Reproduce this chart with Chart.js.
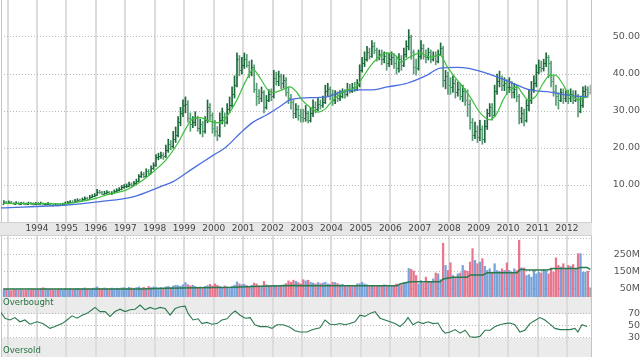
<!DOCTYPE html>
<html><head><meta charset="utf-8">
<script src="https://cdn.jsdelivr.net/npm/chart.js@4.4.1/dist/chart.umd.min.js"></script>
<style>
html,body{margin:0;padding:0;background:#fff;}
#wrap{position:relative;width:640px;height:357px;overflow:hidden;background:#fff;}
canvas{position:absolute;left:0;}
</style></head><body>
<div id="wrap">
<canvas id="price" width="640" height="236" style="top:0"></canvas>
<canvas id="vol" width="640" height="61" style="top:236px"></canvas>
<canvas id="rsi" width="640" height="60" style="top:297px"></canvas>
</div>
<script>
// ---- monthly OHLC, Nov 1992 .. Oct 2012 ----
const firstYear = 1992, firstMonth = 11;
const open = [
5.0,5.3,
5.2,5.4,5.1,5.0,5.2,4.9,5.1,5.0,4.9,5.1,5.0,4.8,
5.0,4.9,5.1,4.8,4.9,5.0,4.7,4.6,4.8,4.6,4.7,4.9,
5.1,5.3,5.5,5.4,5.8,6.0,5.8,6.2,6.4,6.3,6.8,7.0,
7.3,8.2,8.0,7.7,7.9,8.1,7.8,7.9,8.3,8.6,8.9,9.4,
9.6,9.8,10.2,10.0,10.5,11.0,12.3,13.0,12.5,13.8,13.2,14.6,
15.3,17.6,17.9,18.2,17.8,19.5,21.0,20.5,22.5,23.5,27.0,29.5,
31.5,32.0,28.0,26.5,27.0,28.0,25.5,26.5,24.5,27.5,31.0,29.0,
25.5,24.5,23.5,27.5,28.5,27.0,30.5,31.5,34.5,37.0,44.0,41.0,
42.5,44.0,42.5,40.5,42.0,36.0,34.0,33.5,35.0,31.0,33.0,34.5,
34.0,39.0,38.0,39.5,37.5,38.5,35.0,33.5,32.5,29.5,30.5,29.0,
28.5,28.0,29.5,27.5,29.5,31.0,30.5,32.0,31.5,32.5,35.5,36.0,
34.5,33.0,34.5,33.5,34.0,35.0,34.5,36.0,35.5,36.5,36.0,37.0,
41.0,43.0,44.0,46.0,45.0,47.5,46.5,44.5,45.5,44.0,45.0,43.0,
44.0,44.5,43.0,41.5,44.0,42.5,45.5,47.5,50.0,46.0,42.0,41.5,
45.0,47.0,45.0,44.5,46.0,44.0,45.0,43.5,45.5,47.0,38.5,39.5,
37.0,36.5,37.5,35.0,36.0,34.0,35.5,33.0,32.0,27.0,23.5,24.5,
23.0,25.0,22.5,26.0,29.5,31.0,29.0,35.5,38.0,39.0,37.0,37.5,
36.5,36.5,35.0,36.0,34.0,28.0,29.5,27.5,31.5,33.0,36.0,37.5,
40.5,42.0,41.5,43.0,44.5,43.0,38.0,35.5,34.0,33.0,35.0,33.5,
34.5,33.5,34.5,33.0,34.0,30.0,31.5,35.5,36.0,35.0
];
const high = [
5.8,5.6,
5.7,5.6,5.3,5.5,5.4,5.3,5.4,5.2,5.4,5.3,5.2,5.3,
5.3,5.4,5.2,5.1,5.3,5.1,4.9,5.0,4.9,4.9,5.1,5.4,
5.6,5.8,5.8,6.1,6.3,6.2,6.5,6.8,6.7,7.2,7.4,7.7,
8.8,8.6,8.3,8.3,8.5,8.3,8.2,8.7,9.0,9.3,9.9,10.1,
10.3,10.8,10.6,11.0,11.6,12.8,13.6,13.4,14.4,14.2,15.2,16.0,
18.2,18.6,18.9,18.7,20.8,22.4,22.0,24.5,25.7,28.5,31.0,33.0,
33.8,32.8,29.5,28.5,29.8,28.6,27.8,27.2,28.5,33.0,32.0,29.5,
27.5,25.8,29.5,30.8,29.5,32.0,33.8,36.5,39.5,45.7,45.0,44.5,
45.7,45.3,43.5,43.8,42.5,37.5,35.8,36.5,35.5,34.2,35.8,36.0,
41.0,40.5,40.8,40.0,39.8,39.0,36.5,34.5,33.0,32.0,31.5,30.5,
30.5,31.5,30.0,31.0,33.0,32.5,33.5,33.0,34.0,37.0,37.5,36.5,
35.7,35.5,35.2,35.5,36.0,35.8,37.5,37.2,37.5,37.8,38.5,42.5,
44.5,46.0,47.5,47.0,49.0,48.5,47.0,46.5,46.5,46.0,45.8,45.5,
46.0,45.5,44.5,45.5,45.0,47.0,49.0,52.0,50.5,46.5,44.0,46.5,
49.0,48.0,46.5,47.0,46.5,46.0,46.0,46.5,48.4,47.5,41.0,40.5,
39.0,39.5,38.5,37.8,37.5,37.0,36.0,35.7,33.0,28.0,27.0,26.0,
27.5,26.0,27.5,30.5,32.0,32.0,37.0,40.0,40.8,39.5,39.0,38.5,
39.0,38.0,37.5,37.0,34.5,31.0,30.5,33.0,35.7,38.0,39.5,42.5,
43.8,43.5,44.0,45.7,45.0,43.5,39.5,37.0,35.0,36.0,36.0,35.5,
35.7,36.0,35.5,35.5,34.5,33.8,36.5,36.8,36.5,37.0
];
const low = [
4.9,5.0,
5.0,4.9,4.8,4.9,4.7,4.7,4.8,4.6,4.7,4.8,4.6,4.7,
4.7,4.8,4.6,4.6,4.7,4.5,4.3,4.4,4.3,4.4,4.6,4.8,
5.0,5.2,5.2,5.3,5.6,5.6,5.7,6.0,6.0,6.2,6.6,6.8,
7.2,7.7,7.4,7.5,7.7,7.5,7.4,7.7,8.1,8.4,8.7,9.1,
9.3,9.5,9.6,9.8,10.2,10.8,12.0,12.0,12.3,12.6,13.0,14.2,
15.0,16.8,17.2,16.9,17.4,18.8,19.5,20.0,21.5,23.0,26.0,28.5,
29.5,27.0,24.5,25.5,26.0,24.5,23.8,23.0,24.0,26.8,27.5,24.0,
23.2,22.0,23.0,26.5,25.8,26.5,29.5,31.0,33.5,36.5,39.5,40.0,
41.5,41.8,39.0,39.5,35.0,31.5,32.0,32.5,29.5,30.5,32.5,32.8,
33.5,37.0,36.8,36.0,36.2,34.0,32.0,30.5,28.0,28.2,27.5,27.0,
27.0,27.2,26.8,27.0,28.5,29.5,30.0,30.5,31.0,32.0,34.0,33.0,
31.5,32.0,32.5,32.8,33.5,33.5,34.0,34.8,35.0,35.2,35.5,36.5,
40.5,42.0,43.5,44.0,44.5,45.5,43.5,43.8,42.5,43.0,41.0,42.0,
42.5,41.5,40.0,40.5,41.0,42.0,44.5,46.5,44.0,40.0,39.7,41.0,
44.0,44.0,43.0,43.8,43.0,43.5,42.5,43.0,45.0,36.5,36.0,34.5,
34.5,35.0,33.5,34.0,33.0,32.5,31.5,28.5,25.0,22.0,22.5,21.5,
22.0,21.0,21.5,25.0,28.5,27.5,28.5,34.5,36.5,35.5,35.5,34.5,
35.0,33.5,33.5,32.5,26.5,26.8,26.0,27.0,30.0,32.0,35.0,36.5,
40.0,40.5,40.8,42.0,39.0,36.5,34.0,31.5,30.5,32.5,32.0,32.5,
32.0,32.5,32.0,32.5,28.4,29.5,31.0,34.0,34.0,34.5
];
const close = [
5.3,5.2,
5.4,5.1,5.0,5.2,4.9,5.1,5.0,4.9,5.1,5.0,4.8,5.0,
4.9,5.1,4.8,4.9,5.0,4.7,4.6,4.8,4.6,4.7,4.9,5.1,
5.3,5.5,5.4,5.8,6.0,5.8,6.2,6.4,6.3,6.8,7.0,7.3,
8.2,8.0,7.7,7.9,8.1,7.8,7.9,8.3,8.6,8.9,9.4,9.6,
9.8,10.2,10.0,10.5,11.0,12.3,13.0,12.5,13.8,13.2,14.6,15.3,
17.6,17.9,18.2,17.8,19.5,21.0,20.5,22.5,23.5,27.0,29.5,31.5,
32.0,28.0,26.5,27.0,28.0,25.5,26.5,24.5,27.5,31.0,29.0,25.5,
24.5,23.5,27.5,28.5,27.0,30.5,31.5,34.5,37.0,44.0,41.0,42.5,
44.0,42.5,40.5,42.0,36.0,34.0,33.5,35.0,31.0,33.0,34.5,34.0,
39.0,38.0,39.5,37.5,38.5,35.0,33.5,32.5,29.5,30.5,29.0,28.5,
28.0,29.5,27.5,29.5,31.0,30.5,32.0,31.5,32.5,35.5,36.0,34.5,
33.0,34.5,33.5,34.0,35.0,34.5,36.0,35.5,36.5,36.0,37.0,41.0,
43.0,44.0,46.0,45.0,47.5,46.5,44.5,45.5,44.0,45.0,43.0,44.0,
44.5,43.0,41.5,44.0,42.5,45.5,47.5,50.0,46.0,42.0,41.5,45.0,
47.0,45.0,44.5,46.0,44.0,45.0,43.5,45.5,47.0,38.5,39.5,37.0,
36.5,37.5,35.0,36.0,34.0,35.5,33.0,32.0,27.0,23.5,24.5,23.0,
25.0,22.5,26.0,29.5,31.0,29.0,35.5,38.0,39.0,37.0,37.5,36.5,
36.5,35.0,36.0,34.0,28.0,29.5,27.5,31.5,33.0,36.0,37.5,40.5,
42.0,41.5,43.0,44.5,43.0,38.0,35.5,34.0,33.0,35.0,33.5,34.5,
33.5,34.5,33.0,34.0,30.0,31.5,35.5,36.0,35.0,36.0
];
// monthly volume, millions
const volume = [
42,46,
41,38,44,42,40,43,39,41,44,42,46,43,
44,48,55,50,44,46,43,41,44,46,42,48,
46,50,44,48,52,46,50,54,48,46,50,54,
60,52,48,54,50,46,53,48,52,50,54,56,
52,58,54,50,56,60,53,58,50,63,56,60,
58,53,56,52,60,63,56,66,70,68,64,73,
86,73,66,70,63,58,60,56,63,68,76,66,
78,70,63,58,66,60,56,64,70,90,78,73,
76,68,63,70,83,78,66,63,93,73,68,66,
70,66,63,68,73,80,96,88,100,93,86,78,
103,96,100,88,83,78,86,80,83,88,78,76,
88,86,80,73,76,68,70,66,63,68,78,80,
88,78,73,68,70,66,63,68,66,73,70,68,
66,70,78,68,73,83,88,170,165,155,128,78,
98,83,118,93,88,108,143,138,103,320,188,158,
204,128,118,138,143,188,158,153,208,288,218,198,
208,228,183,158,168,148,198,158,153,168,158,203,
158,148,168,158,338,173,173,128,133,118,158,138,
148,143,163,153,138,173,148,233,188,178,198,168,
188,183,193,168,258,258,148,148,153,55
];
// moving averages (decimal year, value)
const maFastYears = [1992.85,1993.42,1994.10,1994.78,1995.46,1996.00,1996.48,1997.02,1997.50,1998.01,1998.38,1998.76,1999.03,1999.30,1999.54,1999.88,2000.22,2000.49,2000.79,2001.07,2001.34,2001.58,2001.81,2002.02,2002.32,2002.59,2002.83,2003.00,2003.27,2003.55,2003.78,2004.06,2004.53,2004.80,2005.07,2005.41,2005.89,2006.23,2006.33,2006.67,2007.01,2007.35,2007.69,2007.93,2008.27,2008.61,2008.71,2009.05,2009.39,2009.63,2009.83,2010.07,2010.31,2010.48,2010.68,2010.92,2011.19,2011.43,2011.60,2011.84,2012.04,2012.21,2012.38,2012.55,2012.72];
const maFastValues = [5.1,5.0,5.0,4.9,5.5,6.4,7.6,8.6,10.8,14.0,16.8,21.0,24.9,28.0,28.2,27.2,26.8,29.0,33.0,37.8,41.2,38.9,36.0,35.0,35.7,36.5,35.0,33.0,31.0,29.7,30.5,33.0,35.7,36.2,39.2,43.0,45.7,44.6,43.2,44.6,45.7,44.6,45.1,42.0,38.4,35.0,33.8,29.5,27.6,29.5,33.0,35.7,36.5,34.8,33.0,33.8,37.5,39.7,39.7,37.5,34.8,33.8,33.0,33.5,33.8];
const maSlowYears = [1992.74,1995.02,1996.14,1997.26,1998.18,1998.62,1999.30,1999.98,2000.45,2000.90,2001.34,2001.81,2002.25,2002.59,2002.93,2003.85,2004.29,2004.97,2005.41,2005.89,2006.57,2007.25,2007.69,2008.27,2008.61,2009.15,2009.73,2010.31,2010.75,2011.43,2012.01,2012.72];
const maSlowValues = [3.8,4.6,5.5,6.8,9.5,10.9,14.5,18.0,20.5,24.0,27.0,29.0,31.2,33.0,33.5,33.8,35.1,35.7,35.7,36.5,37.5,39.7,41.6,41.8,41.6,40.5,38.9,37.0,35.7,35.1,34.3,33.8];
const volMaYears = [1992.85,1997.50,1998.35,2000.66,2001.58,2002.70,2003.61,2006.23,2006.33,2006.67,2007.69,2007.79,2008.13,2008.61,2008.71,2009.15,2009.29,2010.31,2010.41,2010.65,2011.33,2011.53,2012.34,2012.45,2012.68,2012.79];
const volMaValues = [48,48,52,58,64,68,67,67,77,91,91,107,117,117,131,131,145,145,165,161,161,169,169,175,175,164];
const rsiYears = [1992.74,1992.91,1993.08,1993.25,1993.42,1993.59,1993.76,1994.00,1994.20,1994.44,1994.61,1994.85,1995.02,1995.19,1995.36,1995.53,1995.70,1995.87,1995.97,1996.14,1996.31,1996.48,1996.65,1996.82,1996.99,1997.16,1997.33,1997.50,1997.67,1997.84,1998.01,1998.18,1998.35,1998.52,1998.69,1998.86,1999.03,1999.13,1999.30,1999.47,1999.60,1999.77,1999.94,2000.11,2000.28,2000.45,2000.62,2000.73,2000.90,2001.07,2001.24,2001.40,2001.57,2001.81,2001.98,2002.15,2002.36,2002.59,2002.76,2002.93,2003.17,2003.37,2003.61,2003.78,2003.95,2004.12,2004.29,2004.46,2004.63,2004.80,2004.97,2005.14,2005.31,2005.48,2005.65,2005.82,2005.99,2006.16,2006.33,2006.50,2006.60,2006.77,2006.94,2007.11,2007.28,2007.45,2007.62,2007.76,2007.86,2008.03,2008.20,2008.37,2008.54,2008.71,2008.88,2009.05,2009.22,2009.39,2009.56,2009.72,2009.89,2010.06,2010.23,2010.40,2010.57,2010.74,2010.91,2011.08,2011.25,2011.42,2011.59,2011.76,2011.93,2012.10,2012.27,2012.37,2012.51,2012.68];
const rsiValues = [75,63,60,64,57,60,53,57,54,46,49,54,60,67,63,68,71,77,81,74,74,66,74,78,74,77,78,85,77,81,78,81,79,68,79,82,83,71,60,62,54,56,53,54,60,62,71,75,68,63,64,52,49,49,46,52,52,48,42,40,40,44,47,60,53,52,54,52,54,57,68,66,71,74,63,60,57,54,49,57,64,52,57,54,57,54,55,43,38,40,44,38,43,32,31,33,43,43,49,52,54,55,52,40,43,54,59,64,60,53,46,44,44,44,46,40,52,49];
// axes
const yearTicks = [1993,1994,1995,1996,1997,1998,1999,2000,2001,2002,2003,2004,2005,2006,2007,2008,2009,2010,2011,2012];
const priceTicks = [10,20,30,40,50];
const volTicks = [50,100,150,200,250,300,350];
const volLabeled = [50,150,250];
const rsiTicks = [30,50,70];
const overbought = 70, oversold = 30;
const xMin = 1992.777, xMax = 2012.849;

// ---- helpers ----
const monthX = close.map((_, i) => firstYear + (firstMonth - 1 + i + 0.5) / 12);
const isLast = i => i === close.length - 1;
const barColor = i => isLast(i) ? '#b4b4b4' : (close[i] >= open[i] ? '#1c6a3a' : '#5a9c76');
const volColor = i => isLast(i) ? '#a8a8a8' : (close[i] >= open[i] ? '#78a3d8' : '#e8768e');
const pts = (xs, ys) => xs.map((x, i) => ({x, y: ys[i]}));
const FONT = '"DejaVu Sans", Verdana, sans-serif';

function xScale(showLabels) {
  return {
    type: 'linear', min: xMin, max: xMax, position: 'bottom', offset: false,
    afterBuildTicks: s => { s.ticks = yearTicks.map(v => ({value: v})); },
    afterFit: s => { s.height = showLabels ? 14 : 0; s.paddingLeft = 0; s.paddingRight = 0; },
    grid: {color: '#dcdcdc', lineWidth: 2, drawTicks: false, offset: false},
    border: {display: false},
    ticks: {
      display: showLabels, autoSkip: false, maxRotation: 0, padding: 1,
      color: '#444', font: {family: FONT, size: 9},
      callback: v => v < 1994 ? '' : String(v)
    }
  };
}
function yScale(min, max, tickVals, labelFn, pad) {
  return {
    type: 'linear', position: 'right', min, max,
    afterBuildTicks: s => { s.ticks = tickVals.map(v => ({value: v})); },
    afterFit: s => { s.width = 48; s.paddingTop = 0; s.paddingBottom = 0; },
    grid: {color: '#b8b8b8', lineWidth: 1, drawTicks: false, borderDash: [1, 2]},
    border: {display: false, dash: [1, 2]},
    ticks: {color: '#555', font: {family: FONT, size: 9.5}, padding: pad, crossAlign: 'far', callback: labelFn}
  };
}
const edges = {
  id: 'edges',
  beforeDatasetsDraw(chart) {
    const {ctx, chartArea: a} = chart;
    ctx.save(); ctx.strokeStyle = '#c4c4c4'; ctx.lineWidth = 1;
    ctx.beginPath();
    ctx.moveTo(a.left + 0.5, a.top); ctx.lineTo(a.left + 0.5, a.bottom);
    ctx.moveTo(a.right - 0.5, a.top); ctx.lineTo(a.right - 0.5, a.bottom);
    ctx.stroke(); ctx.restore();
  }
};
const common = {
  responsive: false, animation: false, devicePixelRatio: 1,
  layout: {padding: {left: 1, right: 0, top: 0, bottom: 0}, autoPadding: false},
  plugins: {legend: {display: false}, tooltip: {enabled: false}}
};

// ---- price panel ----
const band = {
  id: 'band',
  beforeDraw(chart) {
    const {ctx, chartArea: a} = chart;
    ctx.save();
    ctx.fillStyle = '#e7e7e7';
    ctx.fillRect(0, a.bottom, a.right, chart.height - a.bottom);
    ctx.fillStyle = '#d2d2d2';
    ctx.fillRect(0, a.bottom, a.right, 1);
    ctx.fillRect(0, chart.height - 1, a.right, 1);
    ctx.restore();
  }
};
const ohlcTicks = {
  id: 'ohlcTicks',
  afterDatasetDraw(chart, args) {
    if (args.index !== 2) return;
    const xs = chart.scales.x, ys = chart.scales.y, ctx = chart.ctx;
    ctx.save(); ctx.lineWidth = 1;
    close.forEach((c, i) => {
      const x = xs.getPixelForValue(monthX[i]);
      const yo = Math.round(ys.getPixelForValue(open[i])) + 0.5;
      const yc = Math.round(ys.getPixelForValue(c)) + 0.5;
      ctx.strokeStyle = barColor(i);
      ctx.beginPath();
      ctx.moveTo(x - 1.4, yo); ctx.lineTo(x, yo);
      ctx.moveTo(x, yc); ctx.lineTo(x + 1.4, yc);
      ctx.stroke();
    });
    ctx.restore();
  }
};
new Chart(document.getElementById('price'), {
  type: 'bar',
  data: {datasets: [
    {type: 'line', data: pts(maFastYears, maFastValues), borderColor: '#3dbf3d', borderWidth: 1.2, pointRadius: 0, cubicInterpolationMode: 'monotone', order: 1},
    {type: 'line', data: pts(maSlowYears, maSlowValues), borderColor: '#4a6fde', borderWidth: 1.3, pointRadius: 0, cubicInterpolationMode: 'monotone', order: 1},
    {type: 'bar', data: monthX.map((x, i) => ({x, y: [low[i], high[i]]})), backgroundColor: close.map((_, i) => barColor(i)), barThickness: 1, order: 2}
  ]},
  options: Object.assign({}, common, {
    scales: {
      x: xScale(true),
      y: yScale(0, 60, priceTicks, v => v.toFixed(2), 20)
    }
  }),
  plugins: [band, edges, ohlcTicks]
});

// ---- volume panel ----
new Chart(document.getElementById('vol'), {
  type: 'bar',
  data: {datasets: [
    {type: 'line', data: pts(volMaYears, volMaValues), borderColor: '#2b7a4b', borderWidth: 1.5, pointRadius: 0, order: 1},
    {type: 'bar', data: monthX.map((x, i) => ({x, y: volume[i]})), backgroundColor: close.map((_, i) => volColor(i)), barThickness: 1.6, order: 2}
  ]},
  options: Object.assign({}, common, {
    scales: {
      x: xScale(false),
      y: yScale(0, 363, volTicks, v => volLabeled.includes(v) ? v + 'M' : '', 20)
    }
  }),
  plugins: [edges]
});

// ---- RSI panel ----
const zones = {
  id: 'zones',
  beforeDraw(chart) {
    const {ctx, chartArea: a} = chart, ys = chart.scales.y;
    const yOb = ys.getPixelForValue(overbought), yOs = ys.getPixelForValue(oversold);
    ctx.save(); ctx.fillStyle = '#ebebeb';
    ctx.fillRect(a.left, a.top, a.right - a.left, yOb - a.top);
    ctx.fillRect(a.left, yOs, a.right - a.left, a.bottom - yOs);
    ctx.restore();
  },
  afterDraw(chart) {
    const {ctx, chartArea: a} = chart;
    ctx.save(); ctx.fillStyle = '#23703f';
    ctx.font = '8.5px ' + FONT; ctx.textBaseline = 'middle'; ctx.textAlign = 'left';
    ctx.fillText('Overbought', a.left + 2, a.top + 5.5);
    ctx.fillText('Oversold', a.left + 2, a.bottom - 6);
    ctx.restore();
  }
};
new Chart(document.getElementById('rsi'), {
  type: 'line',
  data: {datasets: [
    {data: pts(rsiYears, rsiValues), borderColor: '#2b7a4f', borderWidth: 1.1, pointRadius: 0, tension: 0}
  ]},
  options: Object.assign({}, common, {
    scales: {
      x: xScale(false),
      y: yScale(-1.7, 98.3, rsiTicks, v => String(v), 29)
    }
  }),
  plugins: [zones, edges]
});
</script>
</body></html>
